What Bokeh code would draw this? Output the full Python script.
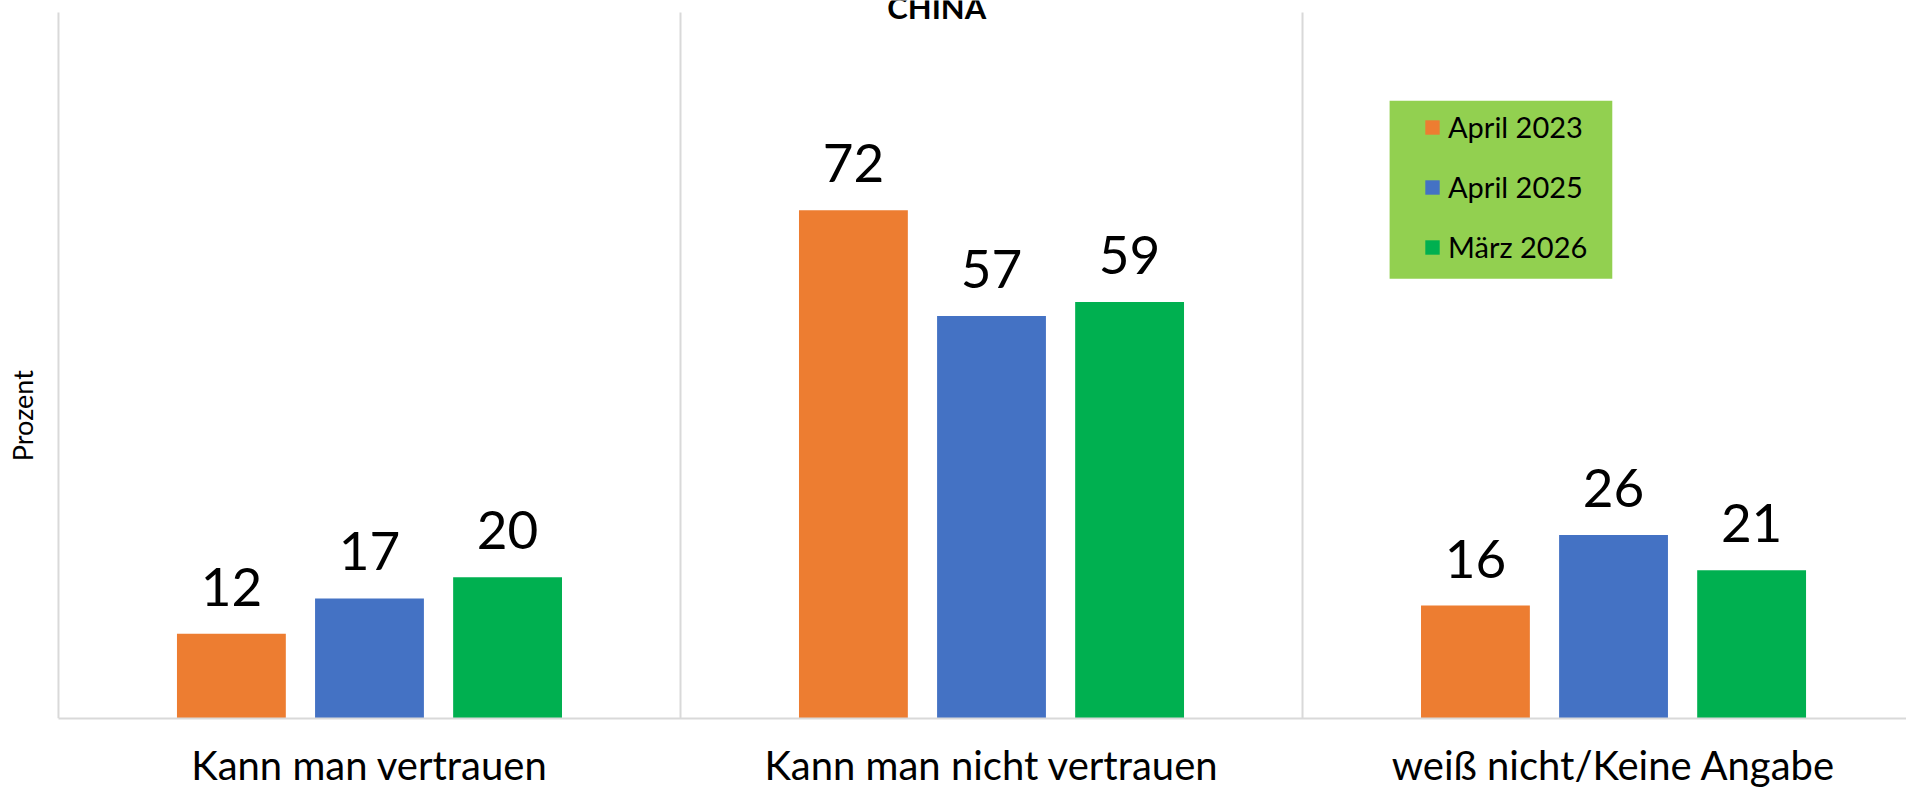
import numpy as np
from bokeh.plotting import figure
from bokeh.models import (ColumnDataSource, Range1d, FixedTicker, Label, LabelSet, Legend,
                          LegendItem, BoxAnnotation)
from bokeh.core.properties import value
from bokeh.embed import file_html
from bokeh.resources import INLINE

categories = ["Kann man vertrauen", "Kann man nicht vertrauen", "weiß nicht/Keine Angabe"]
series_names = ["April 2023", "April 2025", "März 2026"]
april_2023 = [12, 72, 16]
april_2025 = [17, 57, 26]
maerz_2026 = [20, 59, 21]
colors = ["#ED7D31", "#4472C4", "#00B050"]
Y_MAX = 100

FONT = "Lato"
GRID = "#D9D9D9"

p = figure(width=1906, height=792, output_backend="svg", toolbar_location=None,
           x_range=Range1d(-0.0932, 2.971), y_range=Range1d(0, 101.7),
           y_axis_location=None,
           min_border_left=0, min_border_right=0, min_border_top=0, min_border_bottom=74)
p.outline_line_color = None
p.background_fill_color = "white"
p.border_fill_color = "white"
p.xgrid.grid_line_color = None
p.ygrid.grid_line_color = None

# category separators (left line + boundaries)
bounds = np.arange(len(categories))
p.segment(x0=bounds, x1=bounds, y0=0, y1=Y_MAX, line_color=GRID, line_width=2)

centers = np.arange(len(categories)) + 0.5
offsets = [-0.222, 0.0, 0.222]
series_vals = [april_2023, april_2025, maerz_2026]

renderers = []
for name, vals, off, col in zip(series_names, series_vals, offsets, colors):
    src = ColumnDataSource(dict(x=centers + off, top=vals, lab=[str(v) for v in vals]))
    r = p.vbar(x="x", top="top", width=0.175, bottom=0, source=src,
               fill_color=col, line_color=None)
    renderers.append(r)
    p.add_layout(LabelSet(x="x", y="top", text="lab", source=src, text_align="center",
                          text_baseline="alphabetic", y_offset=28, text_font=value(FONT),
                          text_font_size=value("53px"), text_color=value("black")))

# x axis with category labels
p.xaxis.bounds = (0, 2.971)
p.xaxis.ticker = FixedTicker(ticks=list(centers))
p.xaxis.major_label_overrides = {float(c): cat for c, cat in zip(centers, categories)}
p.xaxis.major_tick_line_color = None
p.xaxis.major_tick_out = 0
p.xaxis.minor_tick_line_color = None
p.xaxis.axis_line_color = GRID
p.xaxis.axis_line_width = 2
p.xaxis.major_label_text_font = FONT
p.xaxis.major_label_text_font_size = "40px"
p.xaxis.major_label_text_color = "black"
p.xaxis.major_label_standoff = 22

# title
p.add_layout(Label(x=1.412, y=100.85, text="CHINA", text_align="center",
                   text_baseline="alphabetic", text_font=FONT, text_font_size="31px",
                   text_font_style="bold", text_color="black"))

# y-axis title
p.add_layout(Label(x=-0.0579, y=42.9, text="Prozent", angle=np.pi / 2,
                   text_align="center", text_baseline="middle",
                   text_font=FONT, text_font_size="27px", text_color="black"))

# legend background
p.add_layout(BoxAnnotation(left=2.140, right=2.498, top=87.5, bottom=62.3,
                           fill_color="#92D050", fill_alpha=1.0, line_color=None))

legend = Legend(items=[LegendItem(label=n, renderers=[r]) for n, r in zip(series_names, renderers)],
                location=(1423, 454), orientation="vertical",
                background_fill_alpha=0, border_line_color=None,
                padding=0, margin=0, spacing=25,
                glyph_width=18, glyph_height=18, label_standoff=7,
                label_text_font=FONT, label_text_font_size="29px", label_text_color="black")
p.add_layout(legend)

open("out.html", "w").write(file_html(p, INLINE))
